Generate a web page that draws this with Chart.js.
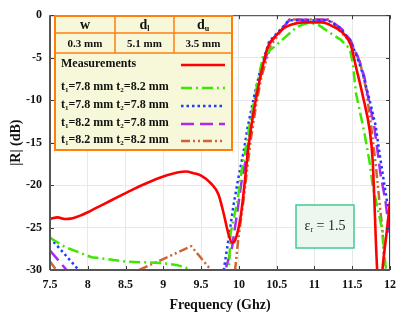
<!DOCTYPE html>
<html>
<head>
<meta charset="utf-8">
<script src="https://cdn.jsdelivr.net/npm/chart.js@4.4.1/dist/chart.umd.min.js"></script>
<style>
html, body { margin: 0; padding: 0; background: #fff; }
#wrap { width: 404px; height: 320px; }
</style>
</head>
<body>
<div id="wrap"><canvas id="rChart" width="404" height="320"></canvas></div>
<script>
// axes
const freqTicks = [7.5, 8, 8.5, 9, 9.5, 10, 10.5, 11, 11.5, 12];
const dbTicks = [0, -5, -10, -15, -20, -25, -30];

// Measurements (red)
const measFreq = [7.5, 7.6, 7.7, 7.8, 7.9, 8.0, 8.2, 8.4, 8.6, 8.8, 9.0, 9.2, 9.3, 9.4, 9.5, 9.63, 9.73, 9.8, 9.86, 9.91, 9.95, 10.02, 10.06, 10.12, 10.18, 10.24, 10.3, 10.38, 10.5, 10.6, 10.7, 10.85, 11.1, 11.25, 11.38, 11.48, 11.55, 11.64, 11.73, 11.77, 11.83, 11.87, 11.9, 11.95, 12.0];
const measDb = [-24.0, -23.8, -24.0, -23.9, -23.6, -23.2, -22.3, -21.4, -20.5, -19.7, -19.0, -18.5, -18.4, -18.6, -18.9, -19.8, -21.1, -23.4, -25.7, -26.8, -26.5, -23.9, -21.1, -16.0, -12.2, -9.2, -6.6, -3.8, -2.3, -1.5, -1.1, -0.85, -0.85, -1.35, -2.1, -3.5, -6.1, -9.5, -13.5, -17.0, -30.0, -34.0, -30.0, -26.0, -22.0];

// t1=7.8 t2=8.2 (green)
const g1Freq = [7.5, 7.7, 8.05, 8.5, 9.0, 9.17, 9.3, 9.4, 9.85, 9.89, 9.98, 10.04, 10.08, 10.15, 10.24, 10.28, 10.32, 10.47, 10.6, 10.77, 10.9, 11.03, 11.21, 11.35, 11.47, 11.51, 11.55, 11.66, 11.73, 11.77, 11.9, 11.94, 12.0];
const g1Db = [-26.2, -27.3, -28.5, -29.0, -29.2, -29.4, -29.7, -31.5, -33.0, -25.7, -21.9, -18.1, -16.2, -12.5, -8.3, -6.6, -4.8, -3.7, -2.7, -1.35, -0.95, -1.0, -2.1, -2.9, -4.0, -5.8, -9.2, -13.8, -17.3, -20.0, -25.4, -29.4, -32.0];

// t1=7.8 t2=7.8 (blue)
const g2Freq = [7.5, 7.9, 7.95, 9.75, 9.8, 9.86, 9.93, 9.99, 10.06, 10.12, 10.21, 10.28, 10.4, 10.57, 10.66, 11.18, 11.34, 11.47, 11.55, 11.64, 11.73, 11.81, 11.86, 11.9, 11.96, 12.0];
const g2Db = [-26.2, -30.2, -33.0, -33.0, -30.0, -26.5, -22.3, -19.3, -16.2, -13.0, -9.2, -6.6, -3.1, -1.5, -0.6, -0.6, -1.5, -2.9, -4.6, -6.9, -10.0, -13.0, -16.2, -18.5, -21.9, -23.0];

// t1=8.2 t2=7.8 (purple)
const g3Freq = [7.5, 7.72, 7.8, 9.75, 9.82, 9.91, 9.98, 10.04, 10.11, 10.16, 10.23, 10.3, 10.42, 10.58, 10.67, 11.2, 11.36, 11.48, 11.57, 11.66, 11.7, 11.79, 11.85, 11.87, 11.94, 11.99, 12.0];
const g3Db = [-27.7, -30.0, -33.0, -33.0, -30.0, -27.3, -23.1, -19.3, -16.2, -13.0, -9.2, -6.6, -3.2, -1.5, -0.55, -0.55, -1.6, -3.0, -4.8, -7.2, -9.2, -13.0, -17.0, -18.5, -21.9, -25.4, -26.0];

// t1=8.2 t2=8.2 (brown/orange)
const g4Freq = [7.5, 7.6, 7.7, 8.6, 8.68, 9.37, 9.63, 9.7, 9.9, 9.95, 9.99, 10.06, 10.11, 10.16, 10.23, 10.3, 10.42, 10.58, 10.67, 11.2, 11.34, 11.47, 11.6, 11.68, 11.75, 11.81, 11.86, 11.9, 11.93, 11.96];
const g4Db = [-29.0, -30.2, -33.0, -33.0, -30.0, -27.2, -30.0, -33.0, -33.0, -30.0, -26.5, -21.9, -18.1, -14.5, -10.5, -7.2, -3.6, -1.6, -0.5, -0.5, -1.9, -3.1, -5.4, -8.5, -13.0, -17.5, -21.9, -25.4, -30.0, -33.0];

// legend / table text ("_x" = subscript x)
const legendLabels = ['Measurements', 't_1=7.8 mm t_2=8.2 mm', 't_1=7.8 mm t_2=7.8 mm', 't_1=8.2 mm t_2=7.8 mm', 't_1=8.2 mm t_2=8.2 mm'];
const paramNames = ['w', 'd_l', 'd_u'];
const paramValues = ['0.3 mm', '5.1 mm', '3.5 mm'];
const epsLabel = 'ε_r = 1.5';

const SERIF = '"Liberation Serif", "Times New Roman", serif';

function pts(f, d) {
    return f.map((x, i) => ({ x: x, y: d[i] }));
}

// draws a string where "_c" puts c as a subscript
function subText(ctx, str, x, y, size, weight, align) {
    const parts = [];
    for (let i = 0; i < str.length; i++) {
        if (str[i] === '_' && i + 1 < str.length) {
            parts.push({ t: str[i + 1], sub: true });
            i++;
        } else {
            if (parts.length && !parts[parts.length - 1].sub) parts[parts.length - 1].t += str[i];
            else parts.push({ t: str[i], sub: false });
        }
    }
    const big = weight + ' ' + size + 'px ' + SERIF;
    const small = weight + ' ' + Math.round(size * 0.6) + 'px ' + SERIF;
    let total = 0;
    parts.forEach(p => { ctx.font = p.sub ? small : big; p.w = ctx.measureText(p.t).width; total += p.w; });
    let cx = align === 'center' ? x - total / 2 : x;
    ctx.textAlign = 'left';
    ctx.textBaseline = 'middle';
    parts.forEach(p => {
        ctx.font = p.sub ? small : big;
        ctx.fillText(p.t, cx, p.sub ? y + size * 0.3 : y);
        cx += p.w;
    });
}

const overlayPlugin = {
    id: 'overlay',
    afterDraw(chart) {
        const ctx = chart.ctx;
        const a = chart.chartArea;
        const xs = chart.scales.x, ys = chart.scales.y;
        ctx.save();

        // box + inward ticks
        ctx.strokeStyle = '#3a3a3a';
        ctx.lineWidth = 1;
        ctx.strokeRect(a.left + 0.5, a.top + 0.5, a.right - a.left - 1, a.bottom - a.top - 1);
        ctx.beginPath();
        freqTicks.forEach(v => {
            const px = Math.round(xs.getPixelForValue(v)) + 0.5;
            ctx.moveTo(px, a.bottom); ctx.lineTo(px, a.bottom - 4);
            ctx.moveTo(px, a.top); ctx.lineTo(px, a.top + 4);
        });
        dbTicks.forEach(v => {
            const py = Math.round(ys.getPixelForValue(v)) + 0.5;
            ctx.moveTo(a.left, py); ctx.lineTo(a.left + 4, py);
            ctx.moveTo(a.right, py); ctx.lineTo(a.right - 4, py);
        });
        ctx.stroke();
        ctx.strokeStyle = '#555';
        ctx.lineWidth = 2;
        ctx.beginPath();
        ctx.moveTo(a.left, a.bottom); ctx.lineTo(a.right, a.bottom);
        ctx.moveTo(a.left, a.top); ctx.lineTo(a.left, a.bottom);
        ctx.stroke();

        // parameter table + legend
        const L = 55, R = 232, T = 16;
        const cols = [55, 115, 174, 232];
        const rows = [16, 33, 53];
        const B = 150;
        ctx.fillStyle = '#f7f7d9';
        ctx.fillRect(L, T, R - L, B - T);
        ctx.strokeStyle = '#ff7f0e';
        ctx.lineWidth = 1.5;
        ctx.beginPath();
        rows.forEach(r => { ctx.moveTo(L, r); ctx.lineTo(R, r); });
        for (let i = 1; i < cols.length - 1; i++) { ctx.moveTo(cols[i], rows[0]); ctx.lineTo(cols[i], rows[2]); }
        ctx.stroke();
        ctx.lineWidth = 2;
        ctx.strokeRect(L, T, R - L, B - T);

        ctx.fillStyle = '#111';
        paramNames.forEach((n, i) => {
            subText(ctx, n, (cols[i] + cols[i + 1]) / 2, 25, 14, 'bold', 'center');
            subText(ctx, paramValues[i], (cols[i] + cols[i + 1]) / 2, 44, 11, 'bold', 'center');
        });

        const rowY = [64, 87, 105, 123, 140];
        legendLabels.forEach((lab, i) => {
            ctx.fillStyle = '#111';
            subText(ctx, lab, 61, rowY[i], 12, 'bold', 'left');
            const ds = chart.data.datasets[i];
            ctx.strokeStyle = ds.borderColor;
            ctx.lineWidth = ds.borderWidth;
            ctx.setLineDash(ds.borderDash || []);
            ctx.beginPath();
            ctx.moveTo(181, rowY[i] + 1);
            ctx.lineTo(225, rowY[i] + 1);
            ctx.stroke();
        });
        ctx.setLineDash([]);

        // permittivity box
        ctx.fillStyle = '#ebf7ef';
        ctx.fillRect(296, 205, 58, 43);
        ctx.strokeStyle = '#3fcc95';
        ctx.lineWidth = 1.5;
        ctx.strokeRect(296, 205, 58, 43);
        ctx.fillStyle = '#222';
        subText(ctx, epsLabel, 325, 226, 14, 'normal', 'center');

        ctx.restore();
    }
};

const lineBase = { showLine: true, pointRadius: 0, fill: false, borderWidth: 2.5, tension: 0 };

const ctx = document.getElementById('rChart').getContext('2d');
const chart = new Chart(ctx, {
    type: 'scatter',
    data: {
        datasets: [
            Object.assign({}, lineBase, { label: legendLabels[0], data: pts(measFreq, measDb), borderColor: '#ff0000', cubicInterpolationMode: 'monotone', borderWidth: 2.6 }),
            Object.assign({}, lineBase, { label: legendLabels[1], data: pts(g1Freq, g1Db), borderColor: '#3ee600', borderDash: [11, 4, 2, 4] }),
            Object.assign({}, lineBase, { label: legendLabels[2], data: pts(g2Freq, g2Db), borderColor: '#1f3bff', borderDash: [2.5, 3] }),
            Object.assign({}, lineBase, { label: legendLabels[3], data: pts(g3Freq, g3Db), borderColor: '#a82cf0', borderDash: [13, 6] }),
            Object.assign({}, lineBase, { label: legendLabels[4], data: pts(g4Freq, g4Db), borderColor: '#cc6633', borderDash: [9, 3, 2, 3, 2, 3] })
        ]
    },
    options: {
        responsive: false,
        animation: false,
        devicePixelRatio: 1,
        layout: { padding: { left: 0, right: 6, top: 9, bottom: 4 } },
        plugins: { legend: { display: false }, tooltip: { enabled: false } },
        scales: {
            x: {
                type: 'linear',
                min: 7.5,
                max: 12,
                afterBuildTicks: s => { s.ticks = freqTicks.map(v => ({ value: v })); },
                afterFit: s => { s.height = 46; },
                grid: { color: '#e8e8e8', drawTicks: false },
                border: { display: false },
                ticks: { color: '#111', padding: 8, font: { family: SERIF, size: 12, weight: 'bold' }, callback: v => String(v), maxRotation: 0 },
                title: { display: true, text: 'Frequency (Ghz)', color: '#111', font: { family: SERIF, size: 14, weight: 'bold' }, padding: { top: 2, bottom: 2 } }
            },
            y: {
                type: 'linear',
                min: -30,
                max: 0,
                afterBuildTicks: s => { s.ticks = dbTicks.map(v => ({ value: v })); },
                afterFit: s => { s.width = 50; },
                grid: { color: '#e8e8e8', drawTicks: false },
                border: { display: false },
                ticks: { color: '#111', padding: 8, font: { family: SERIF, size: 12, weight: 'bold' }, callback: v => String(v) },
                title: { display: true, text: '|R| (dB)', color: '#111', font: { family: SERIF, size: 14, weight: 'bold' }, padding: { top: 8, bottom: 0 } }
            }
        }
    },
    plugins: [overlayPlugin]
});
</script>
</body>
</html>
